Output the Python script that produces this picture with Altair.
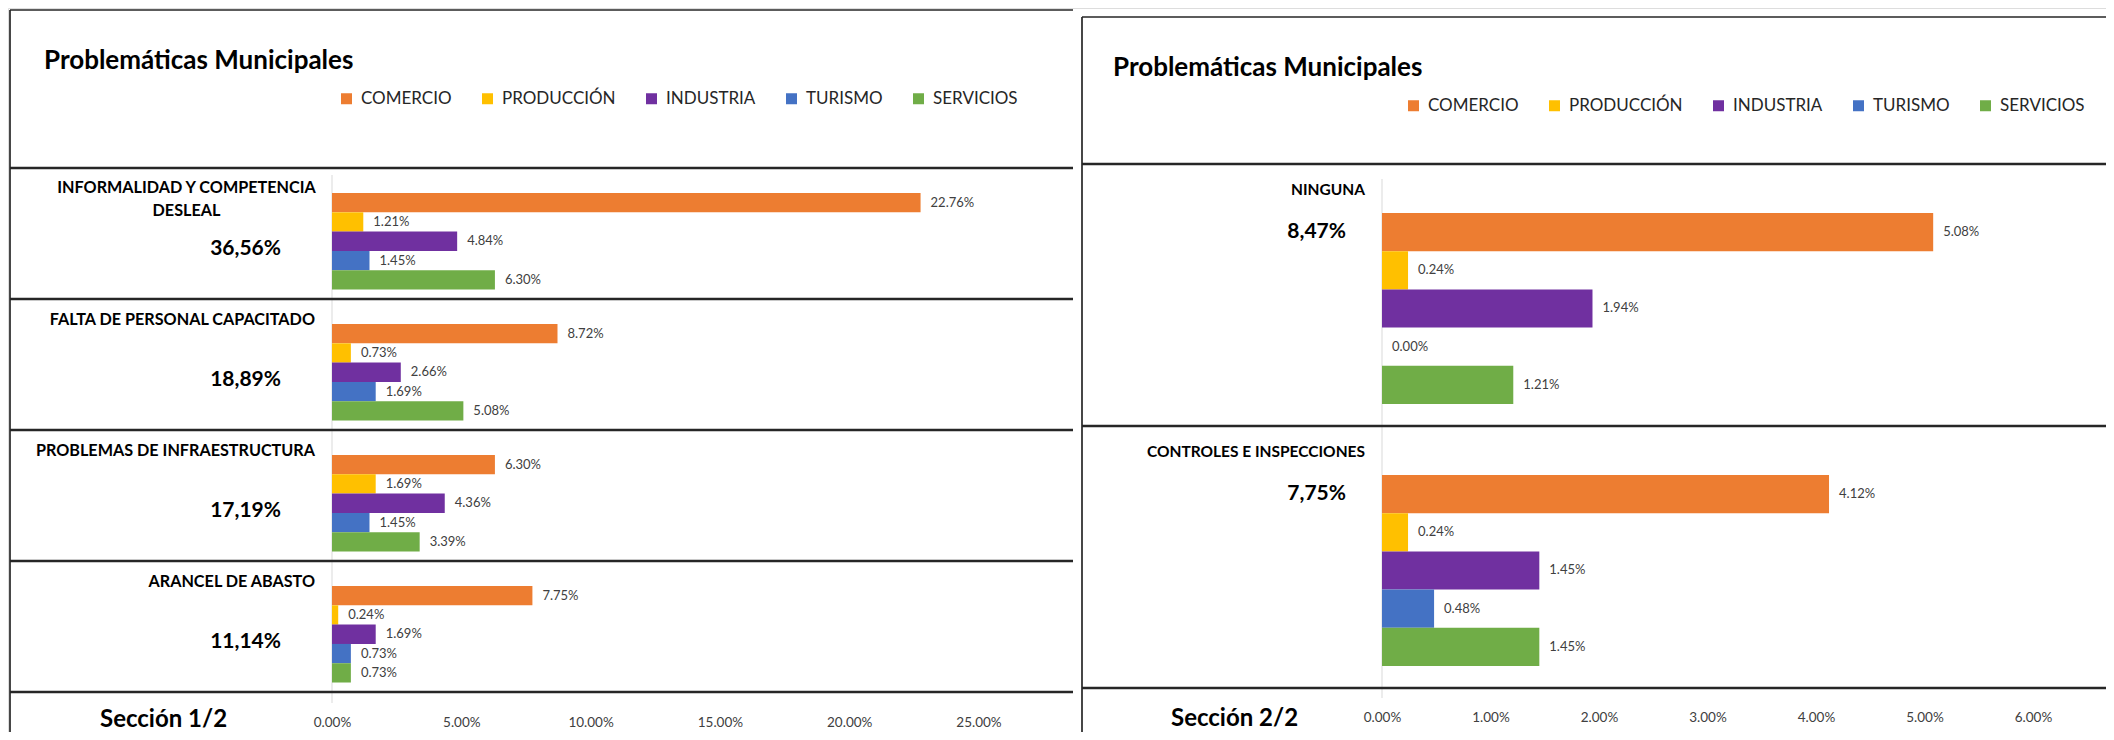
import altair as alt
import pandas as pd

FONT = "Lato"
TITLE = "Problemáticas Municipales"
SECTORS = ["COMERCIO", "PRODUCCIÓN", "INDUSTRIA", "TURISMO", "SERVICIOS"]
SECTOR_COLORS = ["#ED7D31", "#FFC000", "#7030A0", "#4472C4", "#70AD47"]

# ---- Sección 1/2 ----
SECTION_1 = "Sección 1/2"
GROUPS_1 = ["INFORMALIDAD Y COMPETENCIA\nDESLEAL", "FALTA DE PERSONAL CAPACITADO",
            "PROBLEMAS DE INFRAESTRUCTURA", "ARANCEL DE ABASTO"]
TOTALS_1 = [36.56, 18.89, 17.19, 11.14]
COMERCIO_1 = [22.76, 8.72, 6.30, 7.75]
PRODUCCION_1 = [1.21, 0.73, 1.69, 0.24]
INDUSTRIA_1 = [4.84, 2.66, 4.36, 1.69]
TURISMO_1 = [1.45, 1.69, 1.45, 0.73]
SERVICIOS_1 = [6.30, 5.08, 3.39, 0.73]
TICKS_1 = [0, 5, 10, 15, 20, 25]

# ---- Sección 2/2 ----
SECTION_2 = "Sección 2/2"
GROUPS_2 = ["NINGUNA", "CONTROLES E INSPECCIONES"]
TOTALS_2 = [8.47, 7.75]
COMERCIO_2 = [5.08, 4.12]
PRODUCCION_2 = [0.24, 0.24]
INDUSTRIA_2 = [1.94, 1.45]
TURISMO_2 = [0.00, 0.48]
SERVICIOS_2 = [1.21, 1.45]
TICKS_2 = [0, 1, 2, 3, 4, 5, 6]

W, H = 2098, 724

LAYOUT_1 = dict(x_range=[324, 970.5], y_range=[160, 684], pad=0.894, align=0.725,
                fx=[2, 1065], ftop=2, grid_y=[167, 695], axis_offset=-17,
                title_xy=(36, 53), legend_xy=(330, 82), label_x=307, label_dy=21,
                label_size=16.2, multi_x=178.5, total_x=273, total_dy=81,
                section_xy=(92, 712))
LAYOUT_2 = dict(x_range=[1374, 2025], y_range=[156, 680], pad=0.93, align=0.69,
                fx=[1074, 2106], ftop=9, grid_y=[171, 690], axis_offset=-22,
                title_xy=(1105, 60), legend_xy=(1397, 89), label_x=1357, label_dy=26,
                label_size=15.5, multi_x=1250, total_x=1338, total_dy=68,
                section_xy=(1163, 711))


def long_table(groups, cols):
    rows = []
    for gi, g in enumerate(groups):
        for s, col in zip(SECTORS, cols):
            rows.append({"group": g, "sector": s, "value": col[gi]})
    return pd.DataFrame(rows)


def panel(groups, totals, cols, ticks, section, lay):
    table = long_table(groups, cols)
    gdf = pd.DataFrame({"group": groups, "total": totals})
    one = pd.DataFrame({"title": [TITLE], "section": [section]})

    xs = alt.Scale(domain=[0, ticks[-1]], range=lay["x_range"], nice=False, zero=False)
    ys = alt.Scale(domain=groups, range=lay["y_range"], paddingInner=0, paddingOuter=0)
    yo = alt.Scale(domain=SECTORS, paddingInner=0, paddingOuter=lay["pad"], align=lay["align"])
    cs = alt.Scale(domain=SECTORS, range=SECTOR_COLORS)

    def Yg(**kw):
        return alt.Y("group:N", scale=ys, axis=None, **kw)

    grid = alt.Chart(one).transform_calculate(zero="0").mark_rule(
        color="#d9d9d9", strokeWidth=1).encode(
        x=alt.X("zero:Q", scale=xs, title=None),
        y=alt.value(lay["grid_y"][0]), y2=alt.value(lay["grid_y"][1]))

    bars = alt.Chart(table).mark_bar().encode(
        x=alt.X("value:Q", scale=xs, title=None,
                axis=alt.Axis(values=ticks, labelExpr="format(datum.value, '.2f') + '%'",
                              orient="bottom", offset=lay["axis_offset"], domain=False,
                              ticks=False, tickSize=0, grid=False, labelFlush=False,
                              labelOverlap=False, labelBound=False, labelFont=FONT,
                              labelFontSize=13.5, labelColor="#404040", labelPadding=0)),
        y=Yg(),
        yOffset=alt.YOffset("sector:N", scale=yo),
        color=alt.Color("sector:N", scale=cs,
                        legend=alt.Legend(orient="none", legendX=lay["legend_xy"][0],
                                          legendY=lay["legend_xy"][1], direction="horizontal",
                                          title=None, symbolType="square", symbolSize=121,
                                          symbolStrokeWidth=0, labelFont=FONT, labelFontSize=17,
                                          labelColor="#262626", labelOffset=6, columnPadding=27,
                                          padding=0)),
    )

    values = alt.Chart(table).transform_calculate(
        txt="format(datum.value, '.2f') + '%'").mark_text(
        align="left", baseline="middle", dx=10, font=FONT, fontSize=13, color="#404040").encode(
        x=alt.X("value:Q", scale=xs, title=None),
        y=Yg(),
        yOffset=alt.YOffset("sector:N", scale=yo),
        text="txt:N")

    single = alt.Chart(gdf).transform_filter("indexof(datum.group, '\\n') < 0").mark_text(
        align="right", baseline="middle", dy=lay["label_dy"], font=FONT,
        fontSize=lay["label_size"], fontWeight="bold", color="#000000").encode(
        x=alt.value(lay["label_x"]), y=Yg(bandPosition=0), text="group:N")

    multi = alt.Chart(gdf).transform_filter("indexof(datum.group, '\\n') >= 0").mark_text(
        align="center", baseline="top", dy=lay["label_dy"] - 9, lineBreak="\n", lineHeight=23,
        font=FONT, fontSize=lay["label_size"], fontWeight="bold", color="#000000").encode(
        x=alt.value(lay["multi_x"]), y=Yg(bandPosition=0), text="group:N")

    tot = alt.Chart(gdf).transform_calculate(
        txt="replace(format(datum.total, '.2f'), '.', ',') + '%'").mark_text(
        align="right", baseline="middle", dy=lay["total_dy"], font=FONT, fontSize=21,
        fontWeight="bold", color="#000000").encode(
        x=alt.value(lay["total_x"]), y=Yg(bandPosition=0), text="txt:N")

    seps = alt.Chart(gdf).mark_rule(color="#262626", strokeWidth=2.6).encode(
        y=Yg(bandPosition=0), x=alt.value(lay["fx"][0]), x2=alt.value(lay["fx"][1]))
    last = alt.Chart(gdf).transform_filter(
        alt.FieldEqualPredicate(field="group", equal=groups[-1])).mark_rule(
        color="#262626", strokeWidth=2.6).encode(
        y=Yg(bandPosition=1), x=alt.value(lay["fx"][0]), x2=alt.value(lay["fx"][1]))

    top = alt.Chart(one).mark_rule(color="#262626", strokeWidth=1.7).encode(
        x=alt.value(lay["fx"][0]), x2=alt.value(lay["fx"][1]), y=alt.value(lay["ftop"]))
    side = alt.Chart(one).mark_rule(color="#262626", strokeWidth=1.7).encode(
        x=alt.value(lay["fx"][0]), y=alt.value(lay["ftop"]), y2=alt.value(H))

    title = alt.Chart(one).mark_text(
        align="left", baseline="middle", font=FONT, fontSize=26, fontWeight="bold",
        color="#000000").encode(
        x=alt.value(lay["title_xy"][0]), y=alt.value(lay["title_xy"][1]), text="title:N")
    sect = alt.Chart(one).mark_text(
        align="left", baseline="middle", font=FONT, fontSize=24, fontWeight="bold",
        color="#000000").encode(
        x=alt.value(lay["section_xy"][0]), y=alt.value(lay["section_xy"][1]), text="section:N")

    return alt.layer(grid, bars, values, single, multi, tot, seps, last, top, side, title, sect)


p1 = panel(GROUPS_1, TOTALS_1,
           [COMERCIO_1, PRODUCCION_1, INDUSTRIA_1, TURISMO_1, SERVICIOS_1],
           TICKS_1, SECTION_1, LAYOUT_1)
p2 = panel(GROUPS_2, TOTALS_2,
           [COMERCIO_2, PRODUCCION_2, INDUSTRIA_2, TURISMO_2, SERVICIOS_2],
           TICKS_2, SECTION_2, LAYOUT_2)

chart = alt.layer(p1, p2).resolve_scale(
    x="independent", y="independent", yOffset="independent", color="independent"
).resolve_axis(x="independent", y="independent").resolve_legend(
    color="independent"
).properties(
    width=W, height=H, padding=0, autosize=alt.AutoSizeParams(type="none")
).configure_view(stroke=None).configure(font=FONT, background="white")

chart.save("out.html", embed_options={"renderer": "svg", "actions": False})
